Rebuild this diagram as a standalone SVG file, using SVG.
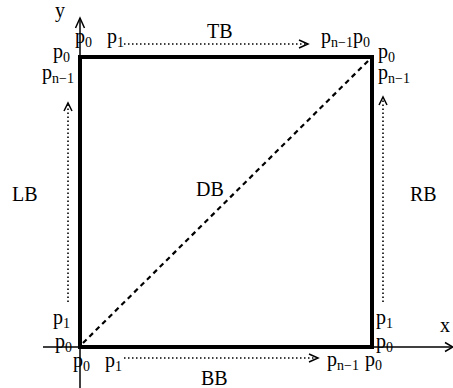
<svg xmlns="http://www.w3.org/2000/svg" width="453" height="388" viewBox="0 0 453 388">
<style>
text{font-family:"Liberation Serif","Times New Roman",serif;fill:#000}
.p{font-size:20px}
.s{font-size:14px}
.lab{font-size:20px}
.ax{stroke:#000;stroke-width:1.5;fill:none}
.edge{stroke:#000;stroke-width:4;fill:none}
.dot{stroke:#000;stroke-width:1.6;stroke-dasharray:1.5 2.5;fill:none}
.head{stroke:#000;stroke-width:1.5;fill:none}
.dash{stroke:#000;stroke-width:2.2;stroke-dasharray:5 4;fill:none}
</style>
<g id="axes">
<line class="ax" x1="80" y1="388" x2="80" y2="18"/>
<polyline class="head" points="75.5,28 80,18 84.5,28"/>
<line class="ax" x1="43" y1="347" x2="452" y2="347"/>
<polyline class="head" points="445,342.5 453,347 445,351.5"/>
<text class="lab" x="55" y="17">y</text>
<text class="lab" x="440" y="332">x</text>
</g>
<g id="square">
<rect class="edge" x="80" y="57" width="292" height="290"/>
</g>
<g id="connectors">
<line class="dash" x1="83" y1="343" x2="370" y2="59"/>
<line class="dot" x1="124" y1="44" x2="306" y2="44"/>
<polyline class="head" points="299,40 308,44 299,48"/>
<line class="dot" x1="124" y1="358" x2="316" y2="358"/>
<polyline class="head" points="309,354 318,358 309,362"/>
<line class="dot" x1="68" y1="302" x2="68" y2="105"/>
<polyline class="head" points="64,111 68,103 72,111"/>
<line class="dot" x1="383" y1="302" x2="383" y2="99"/>
<polyline class="head" points="379,105 383,97 387,105"/>
</g>
<g id="labels">
<text class="lab" x="207" y="38">TB</text>
<text class="lab" x="201" y="385">BB</text>
<text class="lab" x="12" y="201">LB</text>
<text class="lab" x="410" y="201">RB</text>
<text class="lab" x="196" y="196">DB</text>
</g>
<g id="top-points">
<text class="p" x="75" y="43">p<tspan class="s" dy="4">0</tspan></text>
<text class="p" x="107" y="43">p<tspan class="s" dy="4">1</tspan></text>
<text class="p" x="321" y="43">p<tspan class="s" dy="4">n−1</tspan><tspan dy="-4">p</tspan><tspan class="s" dy="4">0</tspan></text>
</g>
<g id="left-points">
<text class="p" x="53" y="58">p<tspan class="s" dy="4">0</tspan></text>
<text class="p" x="42" y="79">p<tspan class="s" dy="4">n−1</tspan></text>
<text class="p" x="53" y="324">p<tspan class="s" dy="4">1</tspan></text>
<text class="p" x="55" y="348">p<tspan class="s" dy="4">0</tspan></text>
</g>
<g id="right-points">
<text class="p" x="378" y="58">p<tspan class="s" dy="4">0</tspan></text>
<text class="p" x="378" y="79">p<tspan class="s" dy="4">n−1</tspan></text>
<text class="p" x="376" y="324">p<tspan class="s" dy="4">1</tspan></text>
<text class="p" x="376" y="348">p<tspan class="s" dy="4">0</tspan></text>
</g>
<g id="bottom-points">
<text class="p" x="73" y="367">p<tspan class="s" dy="4">0</tspan></text>
<text class="p" x="105" y="367">p<tspan class="s" dy="4">1</tspan></text>
<text class="p" x="327" y="366">p<tspan class="s" dy="4">n−1</tspan></text>
<text class="p" x="365" y="366">p<tspan class="s" dy="4">0</tspan></text>
</g>
</svg>
